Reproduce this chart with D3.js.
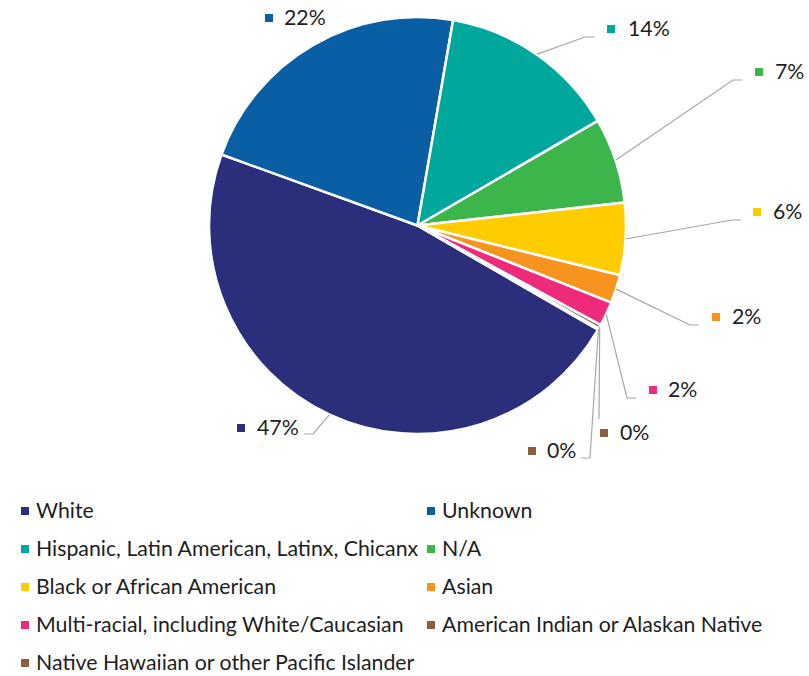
<!DOCTYPE html>
<html>
<head>
<meta charset="utf-8">
<script src="https://cdn.jsdelivr.net/npm/d3@7"></script>
<style>
  html, body { margin: 0; padding: 0; background: #fff; }
  svg { display: block; font-family: Lato, "Open Sans", sans-serif; }
</style>
</head>
<body>
<svg id="chart" width="809" height="676"></svg>
<script>
// ---- data ----
const categories = [
  "White",
  "Unknown",
  "Hispanic, Latin American, Latinx, Chicanx",
  "N/A",
  "Black or African American",
  "Asian",
  "Multi-racial, including White/Caucasian",
  "American Indian or Alaskan Native",
  "Native Hawaiian or other Pacific Islander"
];
const values = [47.2, 22.2, 13.9, 6.6, 5.6, 2.2, 1.9, 0.3, 0.1];
const colors = ["#2a2e7b", "#0a5fa4", "#00a79d", "#3cb54b", "#ffcc00", "#f7941e", "#ee2a7b", "#8b5e3c", "#8b5e3c"];

// ---- layout (label placement, not data) ----
// [markerX, centerY, textX, elbowX, elbowY, endX] ; null elbow => no leader
const labelLayout = [
  [237, 428, 257, 313, 434, 304],
  [265, 18, 284, null, null, null],
  [607, 29, 628, 585, 37, 595],
  [755, 72, 775, 733, 80, 742],
  [753, 212, 773, 732, 220, 741],
  [712, 317, 732, 690, 325, 699],
  [649, 390, 668, 627, 398, 636],
  [600, 433, 620, 599, 419, 599],
  [528, 451, 547, 590, 458, 581]
];

const svg = d3.select("#chart");
const cx = 417.5, cy = 225.5, R = 208.5;
const fontSize = 21.3;
const data = categories.map((c, i) => ({ name: c, value: values[i], color: colors[i], i }));

const pie = d3.pie().value(d => d.value).sort(null)
  .startAngle(2 * Math.PI / 3).endAngle(2 * Math.PI / 3 + 2 * Math.PI);
const arcs = pie(data);
const arc = d3.arc().innerRadius(0).outerRadius(R);

const g = svg.append("g").attr("transform", `translate(${cx},${cy})`);
g.selectAll("path.slice").data(arcs).enter().append("path")
  .attr("class", "slice")
  .attr("d", arc)
  .attr("fill", d => d.data.color)
  .attr("stroke", "#fff")
  .attr("stroke-width", 2.5)
  .attr("stroke-linejoin", "round");

// leader lines and data labels
const fmt = v => Math.round(v) + "%";
arcs.forEach((a, i) => {
  const L = labelLayout[i];
  const mid = (a.startAngle + a.endAngle) / 2;
  const px = cx + R * Math.sin(mid), py = cy - R * Math.cos(mid);
  if (L[3] !== null) {
    svg.append("polyline")
      .attr("points", `${px},${py} ${L[3]},${L[4]} ${L[5]},${L[4]}`)
      .attr("fill", "none")
      .attr("stroke", "#a6a6a6")
      .attr("stroke-width", 1.2);
  }
  svg.append("rect")
    .attr("x", L[0]).attr("y", L[1] - 4)
    .attr("width", 8).attr("height", 8)
    .attr("fill", a.data.color);
  svg.append("text")
    .attr("x", L[2]).attr("y", L[1])
    .attr("dy", "0.35em")
    .attr("font-size", fontSize)
    .attr("fill", "#1e1e1e")
    .text(fmt(a.data.value));
});

// legend
const colX = [21, 427], textOff = 15, rowY0 = 511, rowH = 38;
const leg = svg.append("g");
data.forEach((d, i) => {
  const col = i % 2, row = Math.floor(i / 2);
  const x = colX[col], y = rowY0 + row * rowH;
  leg.append("rect").attr("x", x).attr("y", y - 4).attr("width", 8).attr("height", 8).attr("fill", d.color);
  leg.append("text").attr("x", x + textOff).attr("y", y).attr("dy", "0.35em")
    .attr("font-size", fontSize).attr("fill", "#1e1e1e").text(d.name);
});
</script>
</body>
</html>
